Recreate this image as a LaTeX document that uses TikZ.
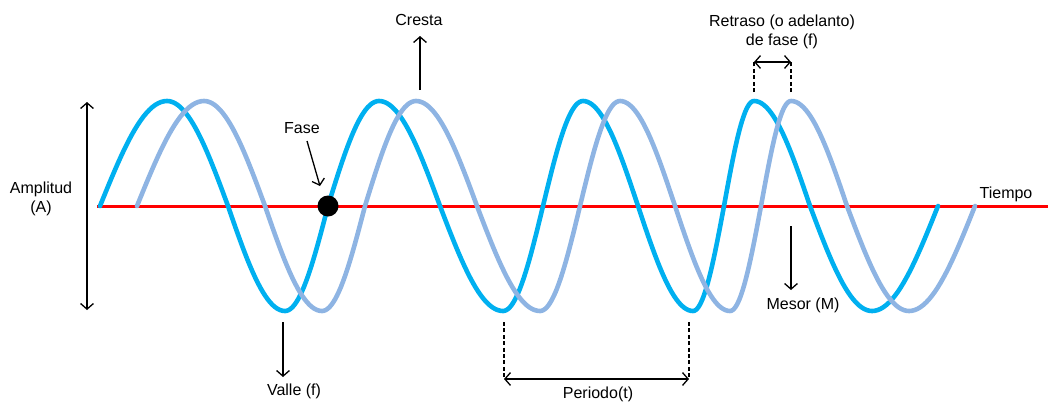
\documentclass[tikz,border=0pt]{standalone}
\usepackage{fontspec}
\setmainfont{Liberation Sans}
\usetikzlibrary{arrows.meta}
\definecolor{azulonda}{HTML}{00B0F0}
\definecolor{ondaclara}{HTML}{8EB4E3}
\tikzset{
  lbl/.style={inner sep=1pt, font=\fontsize{8}{9.5}\selectfont, align=center},
  flecha/.style={line width=0.65pt, -{Straight Barb[length=2.8pt,width=6.4pt]}},
  dflecha/.style={line width=0.65pt, {Straight Barb[length=2.8pt,width=6.4pt]}-{Straight Barb[length=2.8pt,width=6.4pt]}},
  guia/.style={line width=0.6pt, dash pattern=on 2pt off 1.2pt},
  onda/.style={line width=2.3pt, line cap=round, line join=round}
}
% one wave, shifted by #1 px
\newcommand\ondapath[1]{%
  \foreach \a/\b/\p in {100/167/0, 167/228/90, 228/285/180, 285/328/270,
      328/379/360, 379/440/450, 440/503/540, 503/543/630,
      543/583/720, 583/638/810, 638/693/900, 693/724/990,
      724/754/1080, 754/810/1170, 810/872/1260, 872/938/1350}
  { plot[domain=\p:\p+90, samples=24, variable=\t] ({#1+\a+(\b-\a)*(\t-\p)/90}, {206-105*sin(\t)}) }
}
\begin{document}
\begin{tikzpicture}[x=0.5pt, y=-0.5pt]
	\useasboundingbox (0,0) rectangle (1048,402);

	% eje del tiempo
	\coordinate (T0) at (97,206);
	\coordinate (T1) at (1048,206);
	\draw[red, line width=1.5pt] (T0) -- (T1);

	% ondas
	\draw[onda, azulonda] \ondapath{0};
	\draw[onda, ondaclara] \ondapath{37};

	\fill[black] (328,206) circle[radius=10.5] coordinate (dot);

	% etiquetas
	\node[lbl] (amp) at (41,199) {Amplitud\\(A)};
	\node[lbl] (fase) at (302,128) {Fase};
	\node[lbl] (cresta) at (419,20) {Cresta};
	\node[lbl] (retraso) at (782,32) {Retraso (o adelanto)\\de fase (f)};
	\node[lbl] (tiempo) at (1006,194) {Tiempo};
	\node[lbl] (mesor) at (803,305) {Mesor (M)};
	\node[lbl] (valle) at (294,391) {Valle (f)};
	\node[lbl] (periodo) at (598,394) {Periodo(t)};

	% amplitud
	\coordinate (A0) at (87,102);
	\coordinate (A1) at (87,310);
	\draw[dflecha] (A0) -- (A1);

	% fase
	\coordinate (F0) at (307,141);
	\coordinate (F1) at (320,186);
	\draw[flecha] (F0) -- (F1);

	% valle
	\coordinate (V0) at (283,322);
	\coordinate (V1) at (283,377);
	\draw[flecha] (V0) -- (V1);

	% cresta
	\coordinate (C0) at (420,90);
	\coordinate (C1) at (420,36);
	\draw[flecha] (C0) -- (C1);

	% periodo
	\coordinate (P0) at (504,322);
	\coordinate (P1) at (504,379);
	\coordinate (P2) at (689,322);
	\coordinate (P3) at (689,379);
	\draw[guia] (P0) -- (P1);
	\draw[guia] (P2) -- (P3);
	\draw[dflecha] (P1) -- (P3);

	% retraso
	\coordinate (R0) at (754,92);
	\coordinate (R1) at (754,62);
	\coordinate (R2) at (791,92);
	\coordinate (R3) at (791,62);
	\draw[guia] (R0) -- (R1);
	\draw[guia] (R2) -- (R3);
	\draw[dflecha] (R1) -- (R3);

	% mesor
	\coordinate (M0) at (791,226);
	\coordinate (M1) at (791,290);
	\draw[flecha] (M0) -- (M1);
\end{tikzpicture}
\end{document}
